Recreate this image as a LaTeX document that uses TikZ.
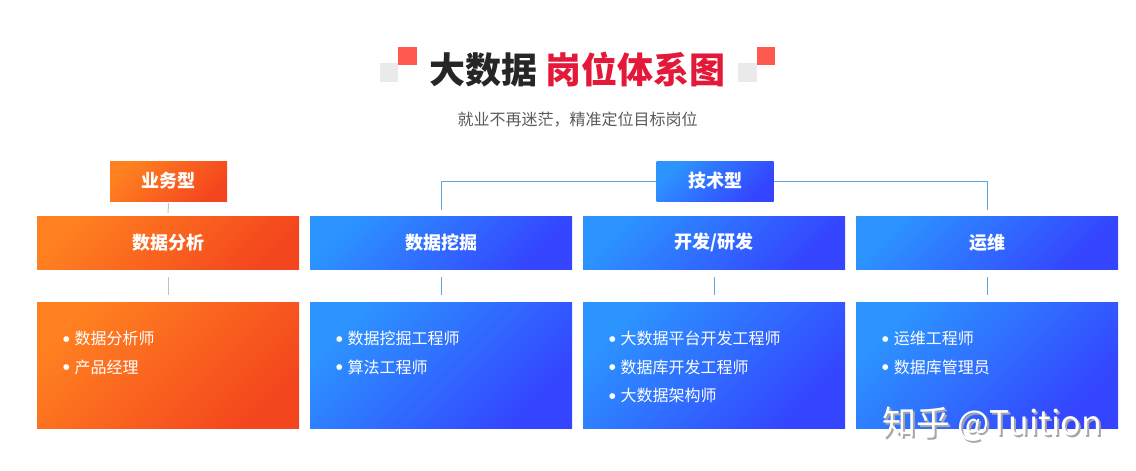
\documentclass[tikz,border=0pt]{standalone}
\usepackage{fontspec}
\setmainfont{Noto Sans CJK SC}
\newfontfamily\bulletfont{DejaVu Sans}
\usepackage{tikz}
\usetikzlibrary{shapes,positioning}
\newcommand{\itm}{\raisebox{3.6pt}{\bulletfont\fontsize{7.5}{8}\selectfont ●}\hspace{5pt}}
\definecolor{orangeA}{RGB}{255,128,32}
\definecolor{orangeB}{RGB}{244,70,30}
\definecolor{blueA}{RGB}{44,148,255}
\definecolor{blueB}{RGB}{52,68,255}
\definecolor{titlered}{RGB}{228,24,56}
\definecolor{titledark}{RGB}{38,38,38}
\definecolor{subgray}{RGB}{90,90,90}
\definecolor{sqgray}{RGB}{234,234,234}
\definecolor{sqred}{RGB}{255,88,78}
\definecolor{linkorange}{RGB}{212,188,172}
\definecolor{linkblue}{RGB}{96,166,222}
\tikzstyle{orangetag}=[rectangle, inner sep=0pt, top color=orangeA, bottom color=orangeB, shading angle=45, minimum width=117pt, minimum height=40pt, text=white, font=\fontsize{18}{20}\selectfont\bfseries]
\tikzstyle{bluetag}=[orangetag, top color=blueA, bottom color=blueB, shading angle=45]
\tikzstyle{orangeblock}=[orangetag, minimum width=262pt, minimum height=53pt]
\tikzstyle{blueblock}=[bluetag, minimum width=262pt, minimum height=53pt]
\tikzstyle{orangelist}=[orangeblock, minimum height=126pt]
\tikzstyle{bluelist}=[blueblock, minimum height=126pt]
\tikzstyle{items}=[inner sep=0pt, anchor=north west, align=left, text=white, font=\fontsize{16}{28.5}\selectfont]
\tikzstyle{orangelink}=[draw=linkorange, line width=1pt]
\tikzstyle{bluelink}=[draw=linkblue, line width=1pt]

\begin{document}
\begin{tikzpicture}[x=1pt, y=-1pt]
\useasboundingbox (0,0) rectangle (1136,471);

% title
\fill[sqgray] (380,63) rectangle (398,82);
\fill[sqred] (398,47) rectangle (417,65);
\fill[sqgray] (738,63) rectangle (757,82);
\fill[sqred] (757,47) rectangle (775,65);
\node[font=\fontsize{36}{40}\selectfont\bfseries] (title) at (577.5,70) {\color{titledark}大数据 \color{titlered}岗位体系图};
\node[text=subgray, font=\fontsize{16}{18}\selectfont] (subtitle) at (577.5,120) {就业不再迷茫，精准定位目标岗位};

\node[orangetag] (biz) at (168.5,181) {业务型};
\node[bluetag] (tech) at (715,181) {技术型};

\node[orangeblock] (d1) at (168,242.5) {数据分析};
\node[blueblock] (d2) at (441,242.5) {数据挖掘};
\node[blueblock] (d3) at (714,242.5) {开发/研发};
\node[blueblock] (d4) at (987,242.5) {运维};

\node[orangelist] (l1) at (168,365) {};
\node[bluelist] (l2) at (441,365) {};
\node[bluelist] (l3) at (714,365) {};
\node[bluelist] (l4) at (987,365) {};

\node[items] (i1) at (63,331) {\itm 数据分析师\\\itm 产品经理};
\node[items] (i2) at (336,331) {\itm 数据挖掘工程师\\\itm 算法工程师};
\node[items] (i3) at (609,331) {\itm 大数据平台开发工程师\\\itm 数据库开发工程师\\\itm 大数据架构师};
\node[items] (i4) at (882,331) {\itm 运维工程师\\\itm 数据库管理员};

\draw[orangelink, shorten <=2pt, shorten >=3pt] (biz.south) -- (d1.north);
\draw[bluelink, shorten >=6pt] (tech.west) -| (d2.north);
\draw[bluelink, shorten >=6pt] (tech.east) -| (d4.north);

\draw[orangelink, shorten <=8pt, shorten >=7pt] (d1.south) -- (l1.north);
\draw[bluelink, shorten <=8pt, shorten >=7pt] (d2.south) -- (l2.north);
\draw[bluelink, shorten <=8pt, shorten >=7pt] (d3.south) -- (l3.north);
\draw[bluelink, shorten <=8pt, shorten >=7pt] (d4.south) -- (l4.north);

% watermark
\node[text=black!35, font=\fontsize{34}{36}\selectfont] (wmshadow) at (994,426) {知乎 @Tuition};
\node[text=white, font=\fontsize{34}{36}\selectfont] (wm) at (992,424) {知乎 @Tuition};

\end{tikzpicture}
\end{document}
